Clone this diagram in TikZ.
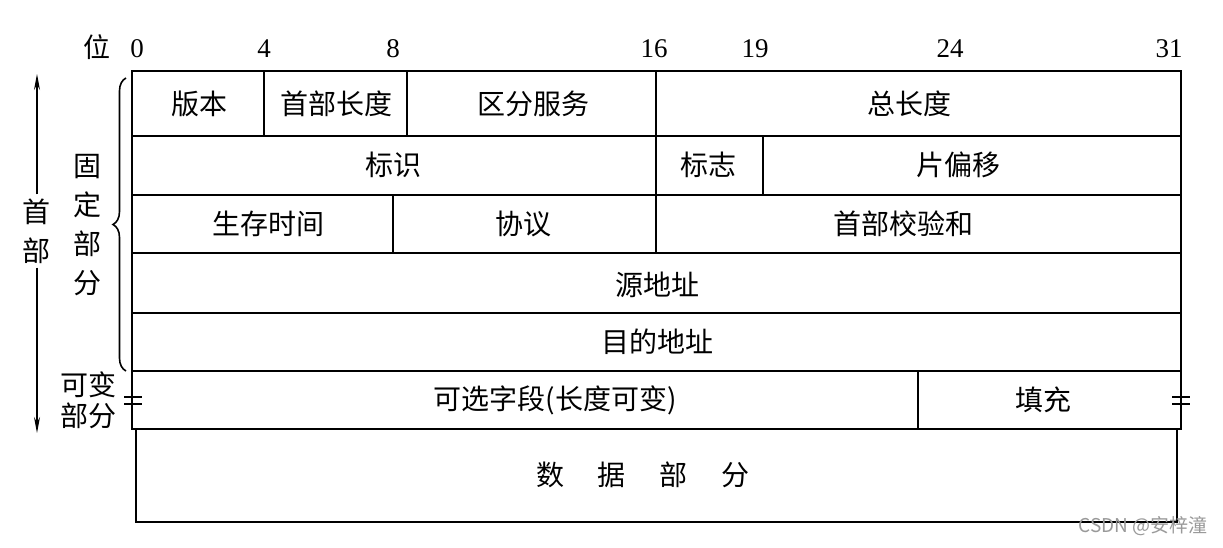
\documentclass[tikz,border=0pt]{standalone}
\usepackage{fontspec}
\setmainfont{Liberation Serif}
\newfontfamily\cjk{Noto Sans CJK SC}
\usetikzlibrary{arrows.meta}
\usetikzlibrary{decorations.pathreplacing}

\begin{document}
\begin{tikzpicture}[x=1pt,y=-1pt,
	field/.style={font=\cjk\fontsize{28}{28}\selectfont, inner sep=0pt},
	bitnum/.style={font=\fontsize{27}{27}\selectfont, inner sep=0pt},
	side/.style={font=\cjk\fontsize{28}{39}\selectfont, align=center, inner sep=0pt},
	cell/.style={line width=1.2pt},
	frame/.style={line width=2pt}]
		\useasboundingbox[fill=white] (0,0) rectangle (1223,548);
		% bit numbers
		\node[bitnum] (wei) at (97,47) {\cjk 位};
		\node[bitnum] (b0) at (137,49) {0};
		\node[bitnum] (b4) at (264,49) {4};
		\node[bitnum] (b8) at (393,49) {8};
		\node[bitnum] (b16) at (654,49) {16};
		\node[bitnum] (b19) at (755,49) {19};
		\node[bitnum] (b24) at (950,49) {24};
		\node[bitnum] (b31) at (1169,49) {31};
		% header frame and rows
		\draw[frame] (132,71) rectangle (1181,429);
		\draw[cell] (132,136) -- (1181,136);
		\draw[cell] (132,195) -- (1181,195);
		\draw[cell] (132,253) -- (1181,253);
		\draw[cell] (132,313) -- (1181,313);
		\draw[frame] (132,371) -- (1181,371);
		\draw[cell] (264,71) -- (264,136);
		\draw[cell] (407,71) -- (407,136);
		\draw[cell] (656,71) -- (656,253);
		\draw[cell] (763,136) -- (763,195);
		\draw[cell] (393,195) -- (393,253);
		\draw[cell] (918,371) -- (918,429);
		% data frame
		\draw[frame] (136,429) -- (136,522) -- (1177,522) -- (1177,429);
		% fields
		\node[field] (ver) at (199,104) {版本};
		\node[field] (hlen) at (336,104) {首部长度};
		\node[field] (tos) at (533,104) {区分服务};
		\node[field] (tlen) at (909,104) {总长度};
		\node[field] (ident) at (393,165) {标识};
		\node[field] (flag) at (708,165) {标志};
		\node[field] (frag) at (958,165) {片偏移};
		\node[field] (ttl) at (268,224) {生存时间};
		\node[field] (proto) at (523,224) {协议};
		\node[field] (csum) at (903,224) {首部校验和};
		\node[field] (src) at (657,285) {源地址};
		\node[field] (dst) at (657,342) {目的地址};
		\node[field] (opt) at (555,400) {可选字段(长度可变)};
		\node[field] (pad) at (1043,400) {填充};
		\node[field] (data) at (643,475) {数\hspace{34pt}据\hspace{34pt}部\hspace{34pt}分};
		% left side
		\draw[decorate, decoration={brace, amplitude=13pt}, line width=1.6pt] (126,371) -- (126,78);
		\node[side] (fixed) at (87,225) {固\\定\\部\\分};
		\node[side, font=\cjk\fontsize{28}{31}\selectfont] (var) at (88,400) {可变\\部分};
		\node[side] (shoubu) at (37,231) {首\\部};
		\coordinate (arrtop) at (37,74);
		\coordinate (arrbot) at (37,433);
		\draw[line width=1.2pt, -{Stealth[length=16pt, width=6pt]}] ([yshift=4pt]shoubu.north) -- (arrtop);
		\draw[line width=1.2pt, -{Stealth[length=16pt, width=6pt]}] ([yshift=-4pt]shoubu.south) -- (arrbot);
		% break marks
		\draw[cell] (124,397) -- (142,397) (124,404) -- (142,404);
		\draw[cell] (1172,397) -- (1190,397) (1172,404) -- (1190,404);
		\node[font=\cjk\fontsize{19}{19}\selectfont, text=black!40, inner sep=0pt] (mark) at (1143,526) {CSDN @安梓潼};
	\end{tikzpicture}
\end{document}
